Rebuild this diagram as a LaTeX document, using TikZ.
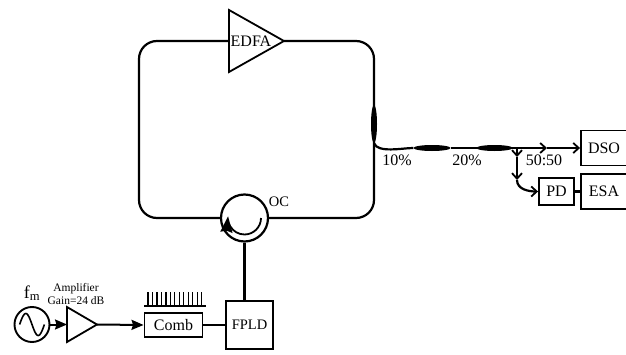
\documentclass[tikz,border=0pt]{standalone}
\usepackage{fontspec}
\setmainfont{Liberation Serif}
\usetikzlibrary{positioning}
\usetikzlibrary{arrows.meta,shapes.geometric}
\tikzset{
  fiber/.style={line width=2.2pt},
  post/.style={line width=2.2pt,-{Straight Barb[length=5.5pt,width=10pt,line width=1.8pt]}},
  feed/.style={line width=2pt,-{Stealth[length=12pt,width=10pt,inset=1.5pt]}},
  box/.style={draw,line width=1.9pt,inner sep=0pt,font=\fontsize{16}{18}\selectfont},
  amp/.style={draw,line width=1.8pt,isosceles triangle,isosceles triangle stretches,
              inner sep=0pt,outer sep=0pt,anchor=lower side},
  tap/.style={ellipse,fill=black,inner sep=0pt},
  lab/.style={inner sep=0pt,font=\fontsize{16}{18}\selectfont},
  small/.style={inner sep=0pt,font=\fontsize{11.5}{13}\selectfont}
}
\begin{document}
\begin{tikzpicture}[x=1pt,y=1pt]
                  \useasboundingbox (0,0) rectangle (626,354);
                  \node [amp,minimum width=62pt,minimum height=55pt] (edfa) at (229,313) {};
                  \node [lab] (edfatxt) at (251,313) {EDFA};
                  \node [draw,circle,line width=2.2pt,minimum size=47pt,inner sep=0pt] (oc) at (244.5,136) {};
                  \node [lab,font=\fontsize{14.5}{16}\selectfont] (octxt) at (279,152) {OC};
                  \coordinate (tl) at (139,313);
                  \coordinate (bl) at (139,136);
                  \coordinate (br) at (374,136);
                  \coordinate (tr) at (374,313);
                  \node [tap,minimum width=6pt,minimum height=38pt] (cpl) at (374,230) {};
                  \node [tap,minimum width=37pt,minimum height=6pt] (tap1) at (432,206) {};
                  \node [tap,minimum width=36pt,minimum height=6pt] (tap2) at (494.5,206) {};
                  \coordinate (split) at (517,206);
                  \coordinate (mid) at (547,206);
                  \coordinate (down1) at (517,197);
                  \coordinate (down2) at (517,174);
                  \node [box,minimum width=46pt,minimum height=35pt] (dso) at (604,206) {DSO};
                  \node [box,minimum width=46pt,minimum height=35pt] (esa) at (604,162.5) {ESA};
                  \node [box,minimum width=35pt,minimum height=27pt] (pd) at (556.5,162.5) {PD};
                  \node [lab] (ten) at (397,194) {10\%};
                  \node [lab] (twenty) at (467,194) {20\%};
                  \node [lab] (split50) at (544,194) {50:50};
                  \node [draw,line width=2.2pt,minimum width=47pt,minimum height=48pt,inner sep=0pt,
                         font=\fontsize{14.5}{16}\selectfont] (fpld) at (249.5,29) {FPLD};
                  \node [box,minimum width=58pt,minimum height=24pt] (comb) at (173.5,29) {Comb};
                  \node [amp,minimum width=35pt,minimum height=30pt] (gain) at (67,29.5) {};
                  \node [draw,circle,line width=1.9pt,minimum size=35pt,inner sep=0pt] (src) at (32,29.5) {};
                  \node [lab,font=\fontsize{18}{20}\selectfont] (fm) [above=5pt of src] {f$_{\mathrm{m}}$};
                  \node [small] (gaintxt) at (76,53) {Gain=24 dB};
                  \node [small] (amptxt) [above=2.5pt of gaintxt] {Amplifier};

                  \draw [fiber,rounded corners=18pt] (edfa.lower side) -- (tl) -- (bl) -- (oc.west);
                  \draw [fiber,rounded corners=18pt] (oc.east) -- (br) -- (tr) -- (edfa.apex);
                  \draw [fiber] (cpl.south) to [out=-70,in=180,looseness=0.7] (tap1.west);
                  \draw [fiber] (tap1.east) -- (tap2.west) -- (split);
                  \draw [post] (split) -- (mid);
                  \draw [post] (mid) -- (dso.west);
                  \draw [post] (split) -- (down1);
                  \draw [post] (down1) -- (down2);
                  \draw [post] (down2) to [out=-90,in=180] (pd.west);
                  \draw [fiber] (pd.east) -- (esa.west);
                  \draw [fiber] (oc.south) -- (oc.south |- fpld.north);
                  \draw [fiber] (comb.east) -- (fpld.west);
                  \draw [feed] (gain.apex) -- (comb.west);
                  \draw [feed] (src.east) -- (gain.lower side);

                  \draw [line width=1.8pt,-{Stealth[length=16pt,width=12pt,inset=1.5pt]}] ([xshift=16.5pt]oc.center)
                        arc [start angle=0,end angle=-186,radius=16.5pt];
                  \draw [line width=1.6pt] plot [smooth,domain=-180:180,samples=37]
                        ({32+\x/14.5},{29.5-11*sin(\x)});
                  \draw [line width=1.4pt] (144,48) -- (206,48);
                  \foreach \i in {0,...,12}
                        \draw [line width=1.3pt] ({148+\i*4.47},48) -- ({148+\i*4.47},62);
\end{tikzpicture}
\end{document}
